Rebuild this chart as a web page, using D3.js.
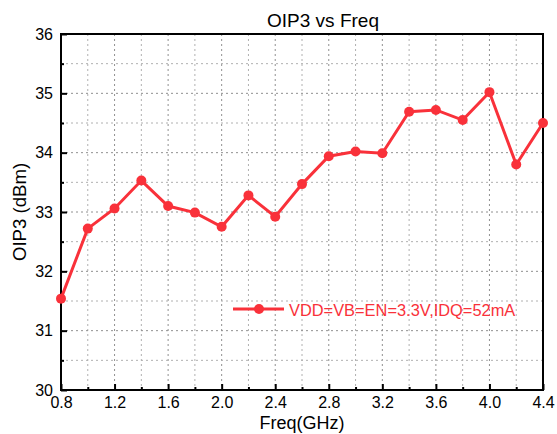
<!DOCTYPE html>
<html>
<head>
<meta charset="utf-8">
<script src="https://cdn.jsdelivr.net/npm/d3@7"></script>
<style>
body { margin: 0; background: #fff; }
text { font-family: "Liberation Sans", Arial, sans-serif; }
.grid line { stroke: #b0b0b0; stroke-dasharray: 2,3; stroke-width: 1; }
.grid .major { stroke: #909090; }
</style>
</head>
<body>
<div id="chart"></div>
<script>
// frequency points (GHz) and measured OIP3 (dBm)
var freq = [0.8, 1.0, 1.2, 1.4, 1.6, 1.8, 2.0, 2.2, 2.4, 2.6, 2.8, 3.0, 3.2, 3.4, 3.6, 3.8, 4.0, 4.2, 4.4];
var oip3 = [31.54, 32.72, 33.06, 33.53, 33.10, 32.99, 32.75, 33.28, 32.92, 33.47, 33.94, 34.02, 33.99, 34.69, 34.72, 34.55, 35.02, 33.80, 34.50];
var xTicks = [0.8, 1.2, 1.6, 2.0, 2.4, 2.8, 3.2, 3.6, 4.0, 4.4];
var xMinor = [1.0, 1.4, 1.8, 2.2, 2.6, 3.0, 3.4, 3.8, 4.2];
var yTicks = [30, 31, 32, 33, 34, 35, 36];
var yMinor = [30.5, 31.5, 32.5, 33.5, 34.5, 35.5];
var legendLabel = "VDD=VB=EN=3.3V,IDQ=52mA";

var red = "#f9313a";

var margin = {top: 34, right: 14, bottom: 44, left: 61},
    width = 557 - margin.left - margin.right,
    height = 434 - margin.top - margin.bottom;

var svg = d3.select("#chart").append("svg")
    .attr("width", 557)
    .attr("height", 434);

var g = svg.append("g")
    .attr("transform", "translate(" + margin.left + "," + margin.top + ")");

var x = d3.scaleLinear().domain([0.8, 4.4]).range([0, width]);
var y = d3.scaleLinear().domain([30, 36]).range([height, 0]);

// grid lines (dashed)
var grid = g.append("g").attr("class", "grid");
grid.selectAll(".vx")
    .data(xTicks.concat(xMinor).filter(function(d) { return d > 0.8 && d < 4.4; }))
    .enter().append("line")
    .attr("class", function(d) { return xTicks.indexOf(d) >= 0 ? "major" : "minor"; })
    .attr("x1", function(d) { return x(d); })
    .attr("x2", function(d) { return x(d); })
    .attr("y1", 0).attr("y2", height);
grid.selectAll(".hy")
    .data(yTicks.concat(yMinor).filter(function(d) { return d > 30 && d < 36; }))
    .enter().append("line")
    .attr("class", function(d) { return yTicks.indexOf(d) >= 0 ? "major" : "minor"; })
    .attr("x1", 0).attr("x2", width)
    .attr("y1", function(d) { return y(d); })
    .attr("y2", function(d) { return y(d); });

// axes with inward ticks
var xAxis = g.append("g")
    .attr("transform", "translate(0," + height + ")")
    .call(d3.axisBottom(x).tickValues(xTicks).tickSize(-6).tickPadding(7).tickFormat(d3.format(".1f")));
var xAxisMinor = g.append("g")
    .attr("transform", "translate(0," + height + ")")
    .call(d3.axisBottom(x).tickValues(xMinor).tickSize(-3).tickFormat(""));
var yAxis = g.append("g")
    .call(d3.axisLeft(y).tickValues(yTicks).tickSize(-6).tickPadding(8).tickFormat(d3.format("d")));
var yAxisMinor = g.append("g")
    .call(d3.axisLeft(y).tickValues(yMinor).tickSize(-3).tickFormat(""));

[xAxis, xAxisMinor, yAxis, yAxisMinor].forEach(function(a) {
    a.select(".domain").remove();
    a.selectAll(".tick line").attr("stroke", "#000").attr("stroke-width", 2);
    a.selectAll(".tick text").attr("font-size", 16).attr("fill", "#000")
        .style("font-family", "'Liberation Sans', Arial, sans-serif");
});

// frame
g.append("rect")
    .attr("x", 0).attr("y", 0)
    .attr("width", width).attr("height", height)
    .attr("fill", "none").attr("stroke", "#000").attr("stroke-width", 2);

// data line
var line = d3.line()
    .x(function(d, i) { return x(freq[i]); })
    .y(function(d) { return y(d); });

g.append("path")
    .datum(oip3)
    .attr("d", line)
    .attr("fill", "none")
    .attr("stroke", red)
    .attr("stroke-width", 3);

g.selectAll(".pt")
    .data(oip3)
    .enter().append("circle")
    .attr("cx", function(d, i) { return x(freq[i]); })
    .attr("cy", function(d) { return y(d); })
    .attr("r", 5)
    .attr("fill", red);

// legend
var leg = g.append("g").attr("transform", "translate(" + (233 - margin.left) + "," + (309 - margin.top) + ")");
leg.append("line")
    .attr("x1", 0).attr("x2", 51).attr("y1", 0).attr("y2", 0)
    .attr("stroke", red).attr("stroke-width", 3);
leg.append("circle").attr("cx", 26).attr("cy", 0).attr("r", 5).attr("fill", red);
leg.append("text")
    .attr("x", 56).attr("y", 7)
    .attr("font-size", 16.4)
    .attr("fill", red)
    .text(legendLabel);

// titles
svg.append("text")
    .attr("x", 323).attr("y", 27)
    .attr("text-anchor", "middle")
    .attr("font-size", 19)
    .text("OIP3 vs Freq");

svg.append("text")
    .attr("x", margin.left + width / 2).attr("y", 429)
    .attr("text-anchor", "middle")
    .attr("font-size", 18)
    .text("Freq(GHz)");

svg.append("text")
    .attr("transform", "translate(26," + (margin.top + height / 2) + ") rotate(-90)")
    .attr("text-anchor", "middle")
    .attr("font-size", 18.6)
    .text("OIP3 (dBm)");
</script>
</body>
</html>
